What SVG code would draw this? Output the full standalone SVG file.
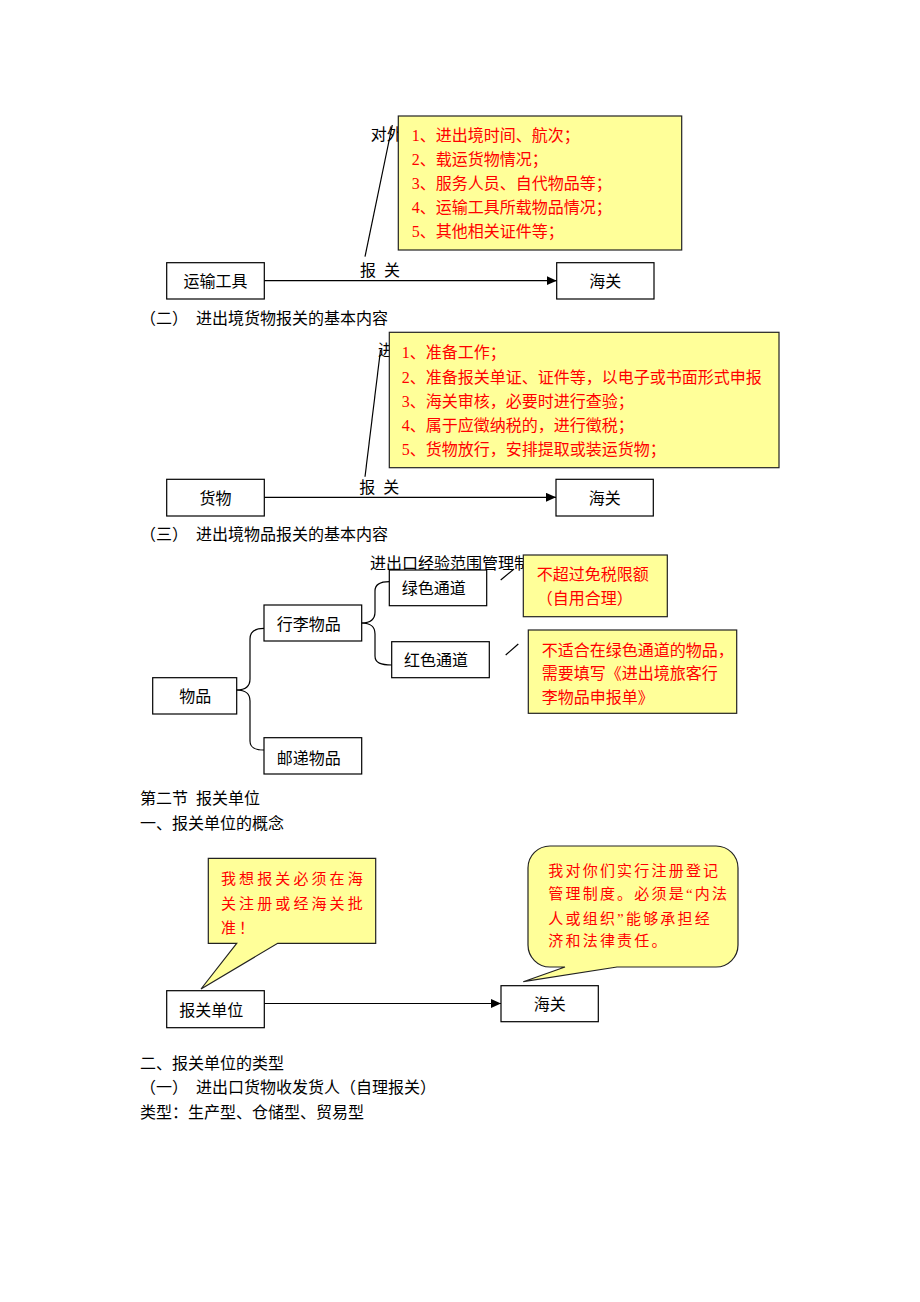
<svg xmlns="http://www.w3.org/2000/svg" width="920" height="1302" viewBox="0 0 920 1302">
<style>
text{font-family:"Liberation Serif","Noto Sans CJK SC",serif;font-size:16px;fill:#000}
.red{fill:#ff0000}
.box{fill:#fff;stroke:#000;stroke-width:1.2}
.note{fill:#ffff99;stroke:#222;stroke-width:1.2}
.ln{fill:none;stroke:#000;stroke-width:1.2}
.mid{text-anchor:middle}
.call{font-size:15px}
</style>
<defs>
<marker id="arr" markerUnits="userSpaceOnUse" markerWidth="11" markerHeight="10" refX="10" refY="4.5" orient="auto">
<path d="M0,0 L10,4.5 L0,9 Z" fill="#000"/>
</marker>
</defs>
<rect width="920" height="1302" fill="#fff"/>

<!-- section 1 -->
<text x="370.7" y="140">对外</text>
<g id="note1">
<rect class="note" x="398.3" y="116" width="283.4" height="134"/>
<text class="red" x="411.7" y="141">1、进出境时间、航次；</text>
<text class="red" x="411.7" y="165">2、载运货物情况；</text>
<text class="red" x="411.7" y="189">3、服务人员、自代物品等；</text>
<text class="red" x="411.7" y="213">4、运输工具所载物品情况；</text>
<text class="red" x="411.7" y="237">5、其他相关证件等；</text>
</g>
<g id="n-transport">
<rect class="box" x="166.7" y="262.7" width="97.6" height="36.3"/>
<text class="mid" x="215.5" y="287">运输工具</text>
</g>
<g id="n-customs1">
<rect class="box" x="556.7" y="262.7" width="97.3" height="36.3"/>
<text class="mid" x="605.3" y="287">海关</text>
</g>
<text x="140" y="324" word-spacing="4">（二） 进出境货物报关的基本内容</text>

<!-- section 2 -->
<text x="378" y="356">进</text>
<g id="note2">
<rect class="note" x="389.3" y="332.3" width="389.7" height="135.4"/>
<text class="red" x="401.7" y="357.7">1、准备工作；</text>
<text class="red" x="401.7" y="382.7">2、准备报关单证、证件等，以电子或书面形式申报</text>
<text class="red" x="401.7" y="407">3、海关审核，必要时进行查验；</text>
<text class="red" x="401.7" y="431">4、属于应徵纳税的，进行徵税；</text>
<text class="red" x="401.7" y="455">5、货物放行，安排提取或装运货物；</text>
</g>
<g id="n-goods">
<rect class="box" x="166.7" y="479.3" width="97.6" height="36.7"/>
<text class="mid" x="215.5" y="503.7">货物</text>
</g>
<g id="n-customs2">
<rect class="box" x="556" y="479.3" width="97.3" height="36.7"/>
<text class="mid" x="604.7" y="503.7">海关</text>
</g>
<text x="140" y="539.5" word-spacing="4">（三） 进出境物品报关的基本内容</text>

<!-- section 3 -->
<text x="370" y="569.3">进出口经验范围管理制</text>
<g id="note3">
<rect class="note" x="523.3" y="555" width="144" height="61.7"/>
<text class="red" x="536.7" y="580.3">不超过免税限额</text>
<text class="red" x="536.7" y="604.3">（自用合理）</text>
</g>
<g id="note4">
<rect class="note" x="528.3" y="630" width="208.4" height="83.3"/>
<text class="red" x="541.7" y="655.5">不适合在绿色通道的物品，</text>
<text class="red" x="541.7" y="679">需要填写《进出境旅客行</text>
<text class="red" x="541.7" y="703">李物品申报单》</text>
</g>
<g id="n-green">
<rect class="box" x="389.3" y="570" width="97.4" height="35.7"/>
<text x="401.7" y="593.7">绿色通道</text>
</g>
<g id="n-red">
<rect class="box" x="391.7" y="641.7" width="97.6" height="36"/>
<text x="404" y="666">红色通道</text>
</g>
<g id="n-luggage">
<rect class="box" x="264" y="605" width="97.7" height="36"/>
<text x="276.7" y="630.3">行李物品</text>
</g>
<g id="n-items">
<rect class="box" x="152.7" y="677.7" width="84" height="36.3"/>
<text x="179.3" y="701.7">物品</text>
</g>
<g id="n-post">
<rect class="box" x="264" y="737.7" width="97.7" height="36.3"/>
<text x="276.7" y="763.7">邮递物品</text>
</g>

<!-- section 4 -->
<text x="140" y="804.3" word-spacing="4">第二节 报关单位</text>
<text x="140" y="828.7">一、报关单位的概念</text>
<g id="callout1">
<path class="note" d="M208.3,858.3 H375.7 V943.3 H277.7 L201,989 L236.7,943.3 H208.3 Z"/>
<text class="red call" x="221" y="884" letter-spacing="3.1">我想报关必须在海</text>
<text class="red call" x="221" y="908.5" letter-spacing="3.1">关注册或经海关批</text>
<text class="red call" x="221" y="933" letter-spacing="3.1">准！</text>
</g>
<g id="callout2">
<path class="note" d="M550,846 H716 A22,22 0 0 1 738,868 V945 A22,22 0 0 1 716,967 H617 L523.3,981.7 L565,967 H550 A22,22 0 0 1 528,945 V868 A22,22 0 0 1 550,846 Z"/>
<text class="red call" x="548.3" y="875.6" letter-spacing="2.2">我对你们实行注册登记</text>
<text class="red call" x="548.3" y="898.6" letter-spacing="2.2">管理制度。必须是“内法</text>
<text class="red call" x="548.3" y="923.6" letter-spacing="2.2">人或组织”能够承担经</text>
<text class="red call" x="548.3" y="945.6" letter-spacing="2.2">济和法律责任。</text>
</g>
<g id="n-unit">
<rect class="box" x="166.7" y="990.7" width="97.6" height="37"/>
<text x="179.3" y="1016">报关单位</text>
</g>
<g id="n-customs3">
<rect class="box" x="501" y="985.7" width="97.3" height="36"/>
<text class="mid" x="549.7" y="1010">海关</text>
</g>
<text x="140" y="1069.3">二、报关单位的类型</text>
<text x="140" y="1093.3" word-spacing="4">（一） 进出口货物收发货人（自理报关）</text>
<text x="140" y="1117.7">类型：生产型、仓储型、贸易型</text>

<g id="connectors">
<line class="ln" x1="365" y1="256.7" x2="392.3" y2="125"/>
<line class="ln" x1="264.3" y1="280.7" x2="556.7" y2="280.7" marker-end="url(#arr)"/>
<text x="360" y="276" word-spacing="4">报 关</text>
<line class="ln" x1="365" y1="476.7" x2="380.5" y2="350"/>
<line class="ln" x1="264.3" y1="497.3" x2="556" y2="497.3" marker-end="url(#arr)"/>
<text x="359.3" y="492.7" word-spacing="4">报 关</text>
<line class="ln" x1="500.7" y1="580" x2="514" y2="569"/>
<line class="ln" x1="505.7" y1="655" x2="518.3" y2="644"/>
<path class="ln" d="M236.7,690 C245,690 250,687 250,679 V639 C250,631 255,628.3 264,628.3"/>
<path class="ln" d="M236.7,690 C245,690 250,693 250,701 V741 C250,748 255,750 264,750"/>
<path class="ln" d="M361.7,623 C370,623 375,620 375,612 V591 C375,584 380,581.7 389.3,581.7"/>
<path class="ln" d="M361.7,623 C370,623 375,626 375,634 V656 C375,663 381,665 391.7,665"/>
<line class="ln" x1="264.3" y1="1003.5" x2="501" y2="1003.5" marker-end="url(#arr)"/>
</g>
</svg>
